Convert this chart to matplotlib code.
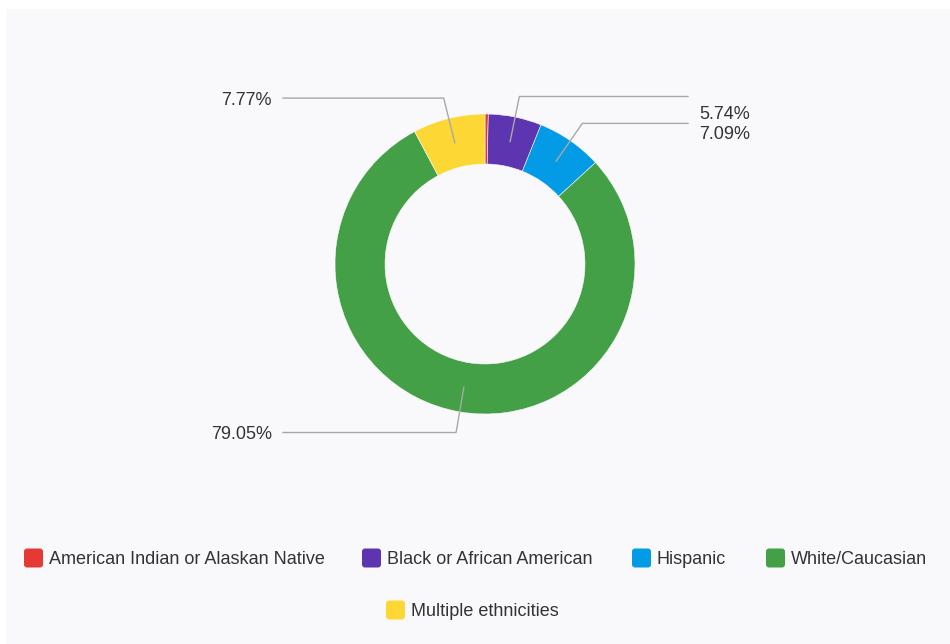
import matplotlib.pyplot as plt
import numpy as np
from matplotlib.patches import Rectangle, FancyBboxPatch

# Ethnicity breakdown (percent of respondents)
categories = ['American Indian or Alaskan Native', 'Black or African American',
              'Hispanic', 'White/Caucasian', 'Multiple ethnicities']
shares = [0.35, 5.74, 7.09, 79.05, 7.77]
colors = ['#E53935', '#5E35B1', '#039BE5', '#43A047', '#FDD835']

# Which slices get an outside label
labelled = [False, True, True, True, True]

W, H = 950, 644
BG = '#F9F9FB'
TEXT = '#333333'
LINE = '#A8A8A8'
plt.rcParams['font.family'] = ['Liberation Sans', 'DejaVu Sans']

fig = plt.figure(figsize=(W / 100, H / 100), dpi=100, facecolor='white')
ax = fig.add_axes([0, 0, 1, 1])

cx, cy = 485, H - 264
R, ring = 150, 50
wedges, _ = ax.pie(shares, colors=colors, startangle=90, counterclock=False,
                   radius=R, center=(cx, cy), frame=True,
                   wedgeprops=dict(width=ring, edgecolor=BG, linewidth=0.4))
ax.set_xlim(0, W)
ax.set_ylim(0, H)
ax.set_aspect('equal')
ax.axis('off')

# light panel behind everything
ax.add_patch(Rectangle((6, 0), W, H - 9, facecolor=BG, edgecolor='none', zorder=-5))

# leader lines: anchor in the ring, elbow outside, then horizontal run
r_anchor, r_elbow = 125, 171
x_right, x_left = 688, 283
# text nudged apart where the two right-hand labels would crowd
text_dy = {1: -16, 2: -9}
for i, (w, val) in enumerate(zip(wedges, shares)):
    if not labelled[i]:
        continue
    mid = np.deg2rad((w.theta1 + w.theta2) / 2)
    ax_, ay_ = cx + r_anchor * np.cos(mid), cy + r_anchor * np.sin(mid)
    ex, ey = cx + r_elbow * np.cos(mid), cy + r_elbow * np.sin(mid)
    right = np.cos(mid) >= 0
    xe = x_right if right else x_left
    ax.plot([ax_, ex, xe], [ay_, ey, ey], color=LINE, lw=1.0, zorder=5)
    ty = ey + text_dy.get(i, 0) - 2
    if right:
        ax.text(xe + 11, ty, f'{val:.2f}%', ha='left', va='center',
                fontsize=13, color=TEXT)
    else:
        ax.text(xe - 11, ty, f'{val:.2f}%', ha='right', va='center',
                fontsize=13, color=TEXT)

# legend, drawn by hand in two centred rows
legend_rows = [[0, 1, 2, 3], [4]]
legend_x = [[24, 362, 632, 766], [386]]
legend_y = [H - 558, H - 610]
sq = 19
for row, xs, y in zip(legend_rows, legend_x, legend_y):
    for i, x in zip(row, xs):
        ax.add_patch(FancyBboxPatch((x + 2, y - sq / 2 + 2), sq - 4, sq - 4,
                                    boxstyle='round,pad=2,rounding_size=3',
                                    facecolor=colors[i], edgecolor='none'))
        ax.text(x + sq + 6, y - 2, categories[i], ha='left', va='center',
                fontsize=13, color=TEXT)

fig.savefig('out.png', dpi=100, facecolor='white')
